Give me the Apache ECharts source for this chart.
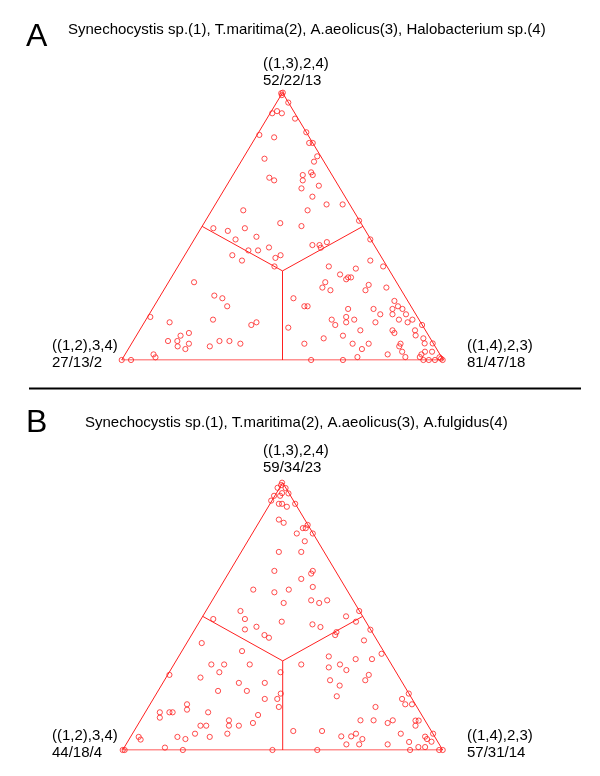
<!DOCTYPE html>
<html>
<head>
<meta charset="utf-8">
<script src="https://cdn.jsdelivr.net/npm/echarts@6/dist/echarts.min.js"></script>
<style>html,body{margin:0;padding:0;background:#fff}#c{width:600px;height:776px}</style>
</head>
<body>
<div id="c"></div>
<script>
// ---- data (triangle coordinates: x = position along base in %, y = height in %) ----
const panelLetters = ['A', 'B'];
const panelTitles = [
  'Synechocystis sp.(1), T.maritima(2), A.aeolicus(3), Halobacterium sp.(4)',
  'Synechocystis sp.(1), T.maritima(2), A.aeolicus(3), A.fulgidus(4)'
];
const topologies = ['((1,3),2,4)', '((1,2),3,4)', '((1,4),2,3)']; // top, left, right corners
const countsA = ['52/22/13', '27/13/2', '81/47/18'];
const countsB = ['59/34/23', '44/18/4', '57/31/14'];

const pointsA = [
  [49.6,99.8],[50.1,100],[49.8,99.1],[51.8,96.3],[46.8,92.3],[48.3,93.1],[49.8,92.3],[53.9,90.3],
  [42.8,84.2],[47.4,83.3],[57.4,85.2],[58.3,81.2],[59.4,81.2],[60.8,76.2],[59.8,74.2],[44.4,75.3],
  [56.3,69.2],[58.9,70.2],[59.4,69.2],[45.9,68.2],[47.4,67.2],[56.3,67.2],[61.3,65.2],[55.9,64.2],
  [59.3,61.1],[63.7,58.2],[68.7,58.2],[37.8,56.0],[57.8,56.0],[49.3,51.2],[55.9,50.1],[73.8,52.1],
  [28.5,49.3],[33.0,48.3],[38.3,49.3],[35.4,45.1],[41.9,46.1],[45.8,42.1],[39.4,41.0],[42.4,41.0],
  [34.4,39.2],[37.4,37.2],[47.8,38.2],[49.4,39.2],[47.5,35.0],[59.3,43.0],[61.5,43.0],[61.9,42.0],
  [63.8,44.1],[77.3,45.1],
  [22.5,29.1],[28.8,24.1],[31.3,23.1],[32.8,20.1],[28.4,15.1],[14.9,14.1],[8.9,16.1],[41.9,14.1],
  [40.3,13.1],[20.9,10.1],[18.3,9.1],[14.4,7.1],[17.3,7.1],[20.9,6.1],[17.4,5.1],[19.8,4.1],
  [27.4,5.1],[30.4,7.1],[33.5,7.1],[36.9,6.1],[9.9,2.1],[10.5,1.0],[0,0],[2.9,0],
  [64.4,35.0],[67.9,32.0],[70.4,30.9],[71.3,30.9],[69.8,30.2],[72.8,34.2],[77.3,37.2],[81.3,35.0],
  [63.3,29.1],[62.4,27.1],[64.9,26.1],[76.8,28.1],[75.8,26.1],[82.3,27.1],[53.4,23.1],[56.8,20.1],
  [57.8,20.1],[70.4,19.1],[78.3,19.1],[84.8,22.1],[85.9,20.1],[84.2,19.1],[87.3,19.1],[84.2,17.1],
  [88.4,17.1],[86.2,15.1],[90.4,15.1],[88.9,14.1],[80.4,17.1],[78.9,14.1],[65.3,15.1],[66.4,13.1],
  [69.8,16.1],[69.8,14.1],[72.3,15.1],[93.4,13.1],[51.8,12.1],[74.2,11.1],[84.2,11.1],[84.8,10.1],
  [91.2,11.1],[91.4,9.2],[93.8,8.1],[94.2,6.2],[96.7,6.2],[94.3,3.1],[96.5,3.1],[93.2,2.1],
  [92.7,1.1],[62.8,8.1],[68.8,9.1],[56.8,6.1],[71.8,6.1],[76.8,6.1],[74.7,4.1],[73.3,1.1],
  [82.7,2.1],[86.3,5.1],[86.7,6.1],[87.2,3.1],[88.2,1.1],[58.9,0],[68.8,0],[93.8,0],
  [95.5,0],[97.4,0],[98.8,1.0],[99.3,0.5],[99.8,0]
];

const pointsB = [
  [49.8,100],[49.5,99.1],[48.4,98.1],[50.9,98.0],[49.8,96.1],[51.8,96.0],[47.3,95.1],[49.2,95.1],
  [46.4,93.3],[48.8,92.1],[49.8,92.1],[51.3,91.0],[53.9,92.1],[48.8,86.2],[50.3,85.0],[54.4,81.0],
  [56.3,83.0],[57.2,83.0],[57.8,84.2],[59.4,81.0],[56.9,78.1],[48.8,74.1],[55.8,74.1],[47.4,67.0],
  [59.4,67.0],[58.9,66.0],[55.8,64.0],[59.4,61.0],[40.8,60.0],[47.4,59.0],[51.9,60.0],[50.3,55.0],
  [58.9,56.0],[61.4,55.0],[63.9,56.0],[36.8,52.0],[73.9,52.0],[69.8,50.0],[28.3,49.0],[38.2,49.0],
  [49.7,48.0],[38.2,45.1],[41.8,46.1],[44.3,43.0],[45.7,42.0],[59.3,47.0],[61.8,46.0],[72.9,48.0],
  [77.4,45.0],[66.8,44.1],[66.4,43.0],
  [24.7,40.0],[37.3,37.0],[27.7,32.0],[31.7,32.0],[39.7,32.0],[30.2,29.1],[24.3,27.1],[14.6,28.1],
  [49.3,29.1],[36.3,25.1],[44.4,25.1],[29.8,22.1],[38.8,22.1],[49.4,21.1],[48.3,19.1],[44.4,19.1],
  [48.8,16.1],[20.1,17.1],[20.1,15.1],[11.6,14.1],[11.6,12.1],[14.6,14.1],[15.6,14.1],[26.7,14.1],
  [42.3,13.1],[33.2,11.1],[33.2,9.1],[40.7,10.1],[36.3,9.1],[24.3,9.1],[26.1,9.1],[22.6,6.1],
  [27.2,4.9],[32.7,6.1],[17.1,4.9],[19.6,4.1],[5.0,4.9],[5.6,3.9],[13.2,0.9],[18.8,0],
  [0,0],[0.6,0],[46.8,0],
  [75.4,41.0],[80.9,36.0],[64.4,35.0],[72.8,34.0],[77.9,34.0],[55.8,32.0],[64.4,30.9],[67.9,32.0],
  [69.9,29.9],[76.9,28.1],[75.8,26.1],[64.8,26.1],[67.8,24.1],[66.9,20.1],[79.0,16.1],[87.3,19.1],
  [88.3,17.1],[90.4,17.1],[89.4,21.1],[74.3,11.1],[78.4,11.1],[82.8,10.1],[84.4,11.1],[91.5,11.0],
  [92.5,11.0],[91.5,9.1],[53.3,7.1],[62.3,7.1],[68.3,5.1],[71.4,5.1],[72.9,6.1],[74.9,4.1],
  [69.9,2.1],[73.9,2.1],[82.8,2.1],[86.9,6.1],[89.5,3.0],[92.4,1.1],[94.5,1.1],[94.5,5.0],
  [95.1,4.1],[97.0,6.1],[96.5,3.1],[60.8,0],[89.8,0],[98.9,0],[100,0]
];

// triangle geometry in the same coordinates
const triangle = [[0,0],[100,0],[50,100],[0,0]];
const centre = [50, 100/3];
const edgeMids = [[25,50],[75,50],[50,0]];

// ---- layout ----
const RED = '#ff2020';
const FONT = '"Liberation Sans", Arial, sans-serif';
const panels = [
  {grid:{left:121.7, top:92.7, width:321.6, height:267.3}, pts:pointsA, counts:countsA,
   letterY:37, titleX:68, titleY:30, topY:[64, 81], sideY:[346, 363]},
  {grid:{left:122.7, top:482.7, width:320, height:267.3}, pts:pointsB, counts:countsB,
   letterY:423, titleX:85, titleY:423, topY:[451, 468], sideY:[736, 753]}
];

const chart = echarts.init(document.getElementById('c'), null, {renderer:'canvas'});
const grids = [], xAxes = [], yAxes = [], series = [], graphics = [];

function txt(x, y, s, size, align) {
  graphics.push({type:'text', x:x, y:y, silent:true,
    style:{text:s, font: size + 'px ' + FONT, fill:'#000', textAlign:align||'left', textVerticalAlign:'middle'}});
}

panels.forEach((p, i) => {
  grids.push(Object.assign({containLabel:false}, p.grid));
  xAxes.push({type:'value', gridIndex:i, min:0, max:100, show:false});
  yAxes.push({type:'value', gridIndex:i, min:0, max:100, show:false});
  series.push({type:'line', xAxisIndex:i, yAxisIndex:i, data:triangle, symbol:'none',
    lineStyle:{color:RED, width:1}, silent:true, z:1});
  edgeMids.forEach(m => series.push({type:'line', xAxisIndex:i, yAxisIndex:i, data:[centre, m],
    symbol:'none', lineStyle:{color:RED, width:1}, silent:true, z:1}));
  series.push({type:'scatter', xAxisIndex:i, yAxisIndex:i, data:p.pts, symbol:'circle', symbolSize:5.2,
    itemStyle:{color:'rgba(255,255,255,0)', borderColor:RED, borderWidth:1}, silent:true, z:2});

  txt(26, p.letterY, panelLetters[i], 32);
  txt(p.titleX, p.titleY, panelTitles[i], 15);
  txt(263, p.topY[0], topologies[0], 15);
  txt(263, p.topY[1], p.counts[0], 15);
  txt(52, p.sideY[0], topologies[1], 15);
  txt(52, p.sideY[1], p.counts[1], 15);
  txt(467, p.sideY[0], topologies[2], 15);
  txt(467, p.sideY[1], p.counts[2], 15);
});

graphics.push({type:'line', silent:true, shape:{x1:29, y1:388.5, x2:581, y2:388.5},
  style:{stroke:'#000', lineWidth:2}});

chart.setOption({
  animation:false,
  backgroundColor:'#fff',
  grid:grids, xAxis:xAxes, yAxis:yAxes, series:series, graphic:graphics
});
</script>
</body>
</html>
